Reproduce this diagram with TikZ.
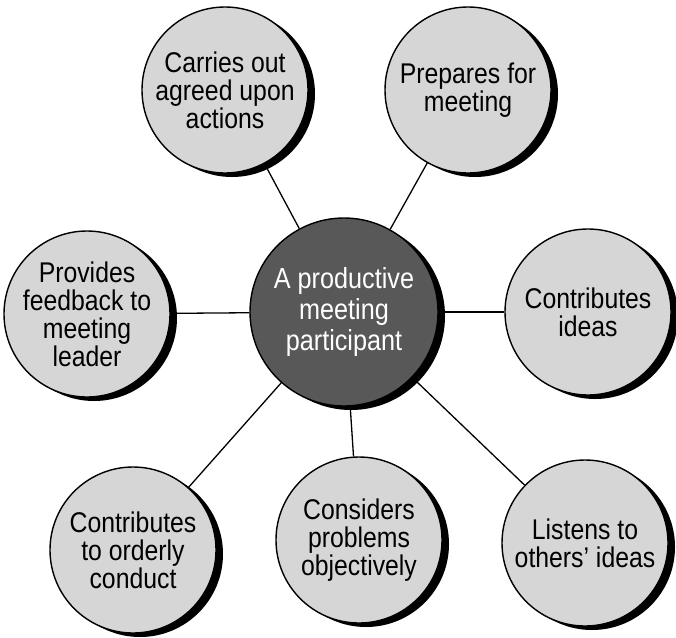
\documentclass[tikz,border=0pt]{standalone}
\usepackage{fontspec}
\setmainfont[FakeStretch=0.87]{Liberation Sans}
\usetikzlibrary{shadows,backgrounds}
\definecolor{satfill}{RGB}{214,214,214}
\definecolor{hubfill}{RGB}{88,88,88}
\begin{document}
\begin{tikzpicture}[x=1pt,y=-1pt,
  base/.style={circle, draw=black, line width=1.4pt, inner sep=0pt, align=center,
    drop shadow={shadow xshift=7pt, shadow yshift=-4pt, fill=black, opacity=1}},
  sat/.style={base, fill=satfill, text=black, minimum size=166pt,
    font=\fontsize{28.5}{28}\selectfont},
  hub/.style={base, fill=hubfill, text=white, minimum size=188pt,
    font=\fontsize{29}{31}\selectfont},
  link/.style={line width=1.3pt, draw=black}]
\useasboundingbox (0,0) rectangle (676,637);
\node[hub] (c) at (344,312) {A productive\\meeting\\participant};
\node[sat] (tl) at (225,90) {Carries out\\agreed upon\\actions};
\node[sat] (tr) at (468,90) {Prepares for\\meeting};
\node[sat] (l) at (87,314) {Provides\\feedback to\\meeting\\leader};
\node[sat] (r) at (588,312) {Contributes\\ideas};
\node[sat] (bl) at (133,550) {Contributes\\to orderly\\conduct};
\node[sat] (bm) at (359,540) {Considers\\problems\\objectively};
\node[sat] (br) at (585,543) {Listens to\\others’ ideas};
\begin{scope}[on background layer]
\foreach \s in {tl,tr,l,r,bl,bm,br} \draw[link] (c) -- (\s);
\end{scope}
\end{tikzpicture}
\end{document}
